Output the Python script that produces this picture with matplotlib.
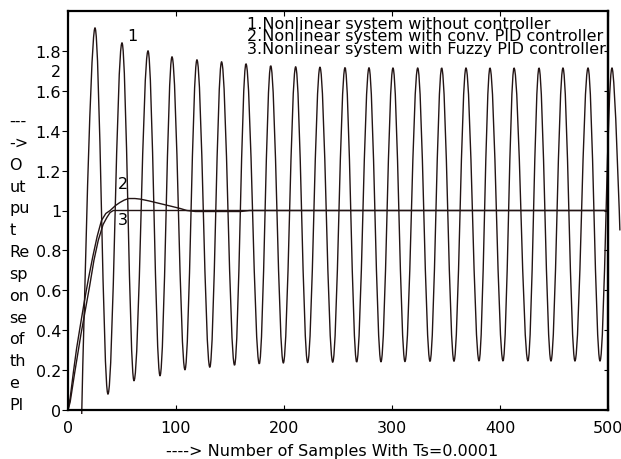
import numpy as np
import matplotlib
matplotlib.use('Agg')
import matplotlib.pyplot as plt
from matplotlib.path import Path
from matplotlib.patches import PathPatch

# ---- data ----
# curve 1: nonlinear system without controller (turning points of the oscillation)
start_pt = (12.7, -0.02)
end_pt = (511.0, 0.90)
peak_x = [25.0, 50.0, 74.1, 96.3, 119.4, 142.2, 164.8, 187.7, 210.8, 233.3, 256.5,
          278.7, 300.9, 323.8, 346.0, 368.5, 390.7, 413.0, 436.1, 458.3, 481.5, 503.7]
peak_y = [1.915, 1.84, 1.80, 1.77, 1.755, 1.745, 1.735, 1.725, 1.72, 1.718, 1.716,
          1.715, 1.714, 1.714, 1.714, 1.714, 1.714, 1.714, 1.714, 1.714, 1.714, 1.714]
trough_x = [37.0, 61.1, 85.2, 108.3, 131.3, 154.2, 177.1, 199.4, 221.9, 245.1, 267.3,
            289.8, 312.0, 335.2, 357.4, 380.6, 402.8, 425.9, 447.2, 469.4, 492.6]
trough_y = [0.08, 0.147, 0.172, 0.202, 0.215, 0.225, 0.232, 0.236, 0.238, 0.240, 0.241,
            0.242, 0.243, 0.244, 0.245, 0.246, 0.246, 0.246, 0.246, 0.246, 0.246]

# curve 2: conventional PID
pid_x = [0, 2, 5, 8, 11, 15, 19, 23, 27, 31, 35, 39, 44, 48, 52, 56, 62, 67, 75, 85,
         95, 104, 110, 118, 160, 168, 500]
pid_y = [0, 0.06, 0.19, 0.31, 0.41, 0.54, 0.66, 0.77, 0.87, 0.95, 0.985, 1.0, 1.025,
         1.04, 1.052, 1.06, 1.06, 1.057, 1.048, 1.035, 1.022, 1.01, 1.0, 0.995, 0.995,
         1.0, 1.0]

# curve 3: fuzzy PID
fz_x = [0, 2, 6, 9, 12, 16, 20, 24, 28, 32.5, 36, 39, 42, 500]
fz_y = [0, 0.04, 0.18, 0.28, 0.38, 0.50, 0.62, 0.75, 0.85, 0.93, 0.965, 0.99, 1.0, 1.0]

xticks = [0, 100, 200, 300, 400, 500]
yticks = [0, 0.2, 0.4, 0.6, 0.8, 1, 1.2, 1.4, 1.6, 1.8]
ytick_labels = ['0', '0.2', '0.4', '0.6', '0.8', '1', '1.2', '1.4', '1.6', '1.8']

legend_lines = ['1.Nonlinear system without controller',
                '2.Nonlinear system with conv. PID controller',
                '3.Nonlinear system with Fuzzy PID controller']
ylabel_lines = ['---', '->', 'O', 'ut', 'pu', 't', 'Re', 'sp', 'on', 'se', 'of', 'th', 'e', 'Pl']
xlabel = '----> Number of Samples With Ts=0.0001'

# ---- drawing ----
W, H = 621, 460
ink = '#231414'
fs = 11.5
plt.rcParams['font.family'] = ['DejaVu Sans']

fig = plt.figure(figsize=(W / 100, H / 100), dpi=100)
ax = fig.add_axes([68 / W, 1 - 411 / H, (608 - 68) / W, (411 - 12) / H])
ax.set_xlim(0, 500)
ax.set_ylim(0, 2)

# oscillating curve: cubic segments between successive turning points
osc_x = [start_pt[0]]
osc_y = [start_pt[1]]
for i in range(len(peak_x)):
    osc_x.append(peak_x[i])
    osc_y.append(peak_y[i])
    if i < len(trough_x):
        osc_x.append(trough_x[i])
        osc_y.append(trough_y[i])
osc_x.append(end_pt[0])
osc_y.append(end_pt[1])

verts = [(osc_x[0], osc_y[0])]
codes = [Path.MOVETO]
n = len(osc_x)
for i in range(1, n):
    a = 0.36 * (osc_x[i] - osc_x[i - 1])
    c1 = (osc_x[i - 1], osc_y[i - 1]) if i == 1 else (osc_x[i - 1] + a, osc_y[i - 1])
    c2 = (osc_x[i], osc_y[i]) if i == n - 1 else (osc_x[i] - a, osc_y[i])
    verts += [c1, c2, (osc_x[i], osc_y[i])]
    codes += [Path.CURVE4] * 3
ax.add_patch(PathPatch(Path(verts, codes), fill=False, ec=ink, lw=1.0,
                       transform=ax.transData, clip_on=False))

ax.plot(pid_x, pid_y, color=ink, lw=1.0)
ax.plot(fz_x, fz_y, color=ink, lw=1.0)

ax.text(59.7, 1.876, '1', fontsize=fs, ha='center', va='center')
ax.text(50.9, 1.133, '2', fontsize=fs, ha='center', va='center')
ax.text(50.6, 0.955, '3', fontsize=fs, ha='center', va='center')

# axes styling
for side in ['left', 'right', 'top', 'bottom']:
    ax.spines[side].set_linewidth(1.6)
    ax.spines[side].set_color('black')

ax.set_xticks(xticks)
ax.set_yticks(yticks)
ax.set_yticklabels(ytick_labels)
ax.tick_params(axis='x', direction='in', top=True, length=3.6, width=0.8,
               pad=7, labelsize=fs)
ax.tick_params(axis='y', direction='out', length=4.5, width=0.8, pad=0.5,
               labelsize=fs)

sec = ax.secondary_yaxis('right')
sec.set_yticks(yticks)
sec.tick_params(direction='in', length=3.2, width=0.8, labelright=False)
sec.spines['right'].set_linewidth(1.6)

# misplaced "2" tick label of the original
ax.annotate('2', xy=(0, 1.696), xycoords=ax.get_yaxis_transform(),
            xytext=(-4.9, 0), textcoords='offset points',
            ha='right', va='center', fontsize=fs)

for i, line in enumerate(legend_lines):
    fig.text(247 / W, 1 - (29 + 12.4 * i) / H, line, fontsize=fs,
             ha='left', va='baseline')

# wrapped y label, anchored on the baseline of its last line
fig.text(9.5 / W, 1 - 410 / H, '\n'.join(ylabel_lines), fontsize=fs,
         ha='left', va='baseline', linespacing=1.57)
fig.text(332 / W, 1 - 452 / H, xlabel, fontsize=fs, ha='center', va='center')

fig.savefig('out.png', dpi=100)
